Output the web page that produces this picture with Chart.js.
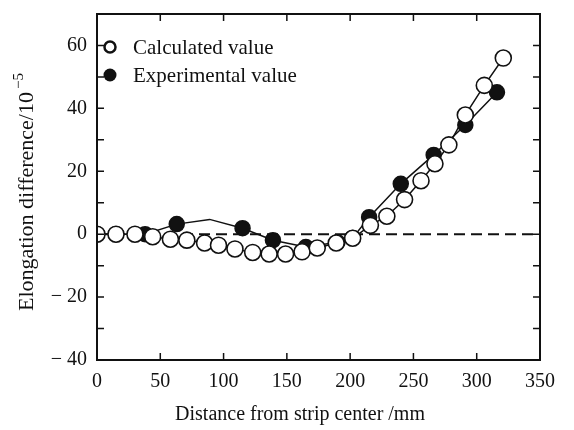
<!DOCTYPE html>
<html>
<head>
<meta charset="utf-8">
<script src="https://cdn.jsdelivr.net/npm/chart.js@4.4.1/dist/chart.umd.min.js"></script>
<style>
  html, body { margin: 0; padding: 0; background: #fff; }
  #wrap { width: 574px; height: 430px; }
</style>
</head>
<body>
<div id="wrap"><canvas id="elongChart" width="574" height="430"></canvas></div>
<script>
// distance from strip center (mm) and elongation difference (x10^-5)
var calcX = [0, 15, 30, 44, 58, 71, 85, 96, 109, 123, 136, 149, 162, 174, 189, 202, 216, 229, 243, 256, 267, 278, 291, 306, 321];
var calcY = [0, 0, 0, -0.8, -1.6, -1.9, -2.8, -3.5, -4.7, -5.8, -6.3, -6.3, -5.6, -4.4, -2.8, -1.3, 2.8, 5.7, 11, 17, 22.4, 28.4, 37.9, 47.3, 56];

var expX = [0, 15, 38, 63, 89, 115, 139, 165, 190, 202, 215, 240, 266, 291, 316];
var expY = [0, 0, 0, 3.2, 4.7, 1.9, -1.9, -4.1, -2.6, -1.2, 5.4, 16, 25.2, 34.7, 45.1];
var expNoMarker = 4; // the vertex at 89 mm has no dot in the original

var xTicks = [0, 50, 100, 150, 200, 250, 300, 350];
var yTicks = [-40, -20, 0, 20, 40, 60];
var yMinor = [-40, -30, -20, -10, 0, 10, 20, 30, 40, 50, 60];

var seriesNames = ['Calculated value', 'Experimental value'];
var xTitle = 'Distance from strip center /mm';
var yTitle = 'Elongation difference/10';
var yTitleExp = '\u22125';

var SERIF = "'Liberation Serif', 'DejaVu Serif', serif";

function pts(xs, ys) {
    var out = [];
    for (var i = 0; i < xs.length; i++) out.push({ x: xs[i], y: ys[i] });
    return out;
}

// frame, inward ticks, axis titles and legend inside the plot
var framePlugin = {
    id: 'frame',
    afterDraw: function(chart) {
        var c = chart.ctx, a = chart.chartArea;
        var xs = chart.scales.x, ys = chart.scales.y;
        c.save();
        c.strokeStyle = '#111';
        c.lineWidth = 2;
        c.strokeRect(a.left, a.top, a.right - a.left, a.bottom - a.top);
        c.lineWidth = 1.5;
        c.beginPath();
        xTicks.forEach(function(v) {
            var p = xs.getPixelForValue(v);
            c.moveTo(p, a.bottom); c.lineTo(p, a.bottom - 7);
            c.moveTo(p, a.top); c.lineTo(p, a.top + 7);
        });
        yMinor.forEach(function(v) {
            var p = ys.getPixelForValue(v);
            c.moveTo(a.left, p); c.lineTo(a.left + 7, p);
            c.moveTo(a.right, p); c.lineTo(a.right - 7, p);
        });
        c.stroke();

        // axis titles
        c.fillStyle = '#111';
        c.textBaseline = 'middle';
        c.textAlign = 'center';
        c.font = '20px ' + SERIF;
        c.fillText(xTitle, 300, 415);

        c.save();
        c.translate(27, 192);
        c.rotate(-Math.PI / 2);
        c.font = '22px ' + SERIF;
        var w1 = c.measureText(yTitle).width;
        c.font = '15px ' + SERIF;
        var w2 = c.measureText(yTitleExp).width;
        var x0 = -(w1 + w2 + 3) / 2;
        c.textAlign = 'left';
        c.font = '22px ' + SERIF;
        c.fillText(yTitle, x0, 0);
        c.font = '15px ' + SERIF;
        c.fillText(yTitleExp, x0 + w1 + 3, -8);
        c.restore();

        // legend
        var lx = a.left + 13, ly = a.top + 33;
        c.font = '21px ' + SERIF;
        c.textAlign = 'left';
        c.beginPath();
        c.arc(lx, ly, 5.5, 0, Math.PI * 2);
        c.fillStyle = '#fff';
        c.fill();
        c.lineWidth = 2.5;
        c.stroke();
        c.fillStyle = '#111';
        c.fillText(seriesNames[0], lx + 23, ly + 1);
        c.beginPath();
        c.arc(lx, ly + 28, 6.5, 0, Math.PI * 2);
        c.fill();
        c.fillText(seriesNames[1], lx + 23, ly + 29);
        c.restore();
    }
};

var ctx = document.getElementById('elongChart').getContext('2d');
var myChart = new Chart(ctx, {
    type: 'scatter',
    data: {
        datasets: [{
            label: seriesNames[0],
            data: pts(calcX, calcY),
            showLine: true,
            borderColor: '#111',
            borderWidth: 1.5,
            pointRadius: 8,
            pointBorderWidth: 1.6,
            pointBackgroundColor: '#fff',
            pointBorderColor: '#111',
            order: 0
        }, {
            label: seriesNames[1],
            data: pts(expX, expY),
            showLine: true,
            borderColor: '#111',
            borderWidth: 1.5,
            pointRadius: function(c) { return c.dataIndex === expNoMarker ? 0 : 7.5; },
            pointBackgroundColor: '#111',
            pointBorderColor: '#111',
            order: 1
        }, {
            label: 'zero',
            data: [{ x: 0, y: 0 }, { x: 350, y: 0 }],
            showLine: true,
            borderColor: '#111',
            borderWidth: 2,
            borderDash: [11, 6],
            pointRadius: 0,
            order: 2
        }]
    },
    options: {
        responsive: false,
        animation: false,
        layout: { padding: { top: 3, right: 34, left: 0, bottom: 0 } },
        plugins: {
            legend: { display: false },
            tooltip: { enabled: false }
        },
        scales: {
            x: {
                type: 'linear',
                min: 0,
                max: 350,
                grid: { display: false },
                border: { display: false },
                ticks: {
                    stepSize: 50,
                    color: '#111',
                    padding: 2,
                    font: { family: SERIF, size: 20 }
                },
                afterFit: function(s) { s.height = 70; }
            },
            y: {
                type: 'linear',
                min: -40,
                max: 70,
                grid: { display: false },
                border: { display: false },
                ticks: {
                    stepSize: 20,
                    includeBounds: false,
                    color: '#111',
                    padding: 2,
                    font: { family: SERIF, size: 20 },
                    callback: function(v) { return v < 0 ? '\u2212 ' + Math.abs(v) : '' + v; }
                },
                afterFit: function(s) { s.width = 97; }
            }
        }
    },
    plugins: [framePlugin]
});
</script>
</body>
</html>
